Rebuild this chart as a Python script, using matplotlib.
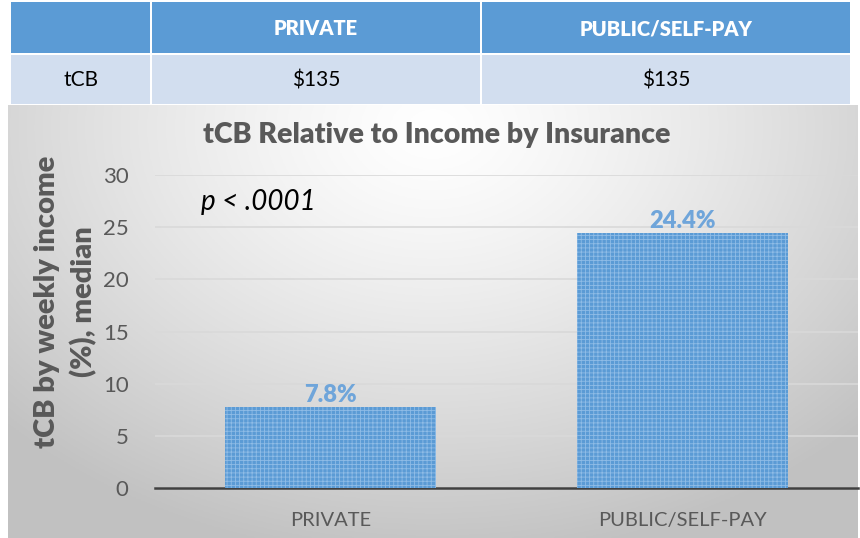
import numpy as np
import matplotlib
matplotlib.use("Agg")
import matplotlib.pyplot as plt

# data
categories = ["PRIVATE", "PUBLIC/SELF-PAY"]
values = [7.8, 24.4]
value_labels = ["7.8%", "24.4%"]
table_header = ["", "PRIVATE", "PUBLIC/SELF-PAY"]
table_row = ["tCB", "$135", "$135"]
yticks = [0, 5, 10, 15, 20, 25, 30]

plt.rcParams["font.family"] = ["Lato", "DejaVu Sans"]
plt.rcParams["hatch.linewidth"] = 0.6

W, H = 860, 538
fig = plt.figure(figsize=(W / 100, H / 100), dpi=100)
fig.patch.set_facecolor("white")

def fx(px):
    return px / W

def fy(py):
    return 1 - py / H

# table on top
tab_ax = fig.add_axes([0, 0, 1, 1])
tab_ax.set_xlim(0, W)
tab_ax.set_ylim(H, 0)
tab_ax.axis("off")
col_edges = [10, 151, 481, 851]
row_edges = [(2, 53), (55, 104)]
rows = [table_header, table_row]
colors = ["#5B9BD5", "#D2DEEF"]
for r, (y0, y1) in enumerate(row_edges):
    for c in range(3):
        x0, x1 = col_edges[c] + 1, col_edges[c + 1] - 1
        tab_ax.add_patch(plt.Rectangle((x0, y0), x1 - x0, y1 - y0, facecolor=colors[r], edgecolor="none"))
        tab_ax.text((x0 + x1) / 2, (y0 + y1) / 2 + 1, rows[r][c], ha="center", va="center",
                    fontsize=14.5 if r == 0 else 15, fontweight="heavy" if r == 0 else "normal",
                    color="white" if r == 0 else "black")

# gradient background for chart
bg = fig.add_axes([fx(8), 0, fx(858) - fx(8), fy(105)])
gx, gy = np.meshgrid(np.linspace(0, 1, 300), np.linspace(0, 1, 200))
dist = np.sqrt(((gx - 0.5) * 1.3) ** 2 + ((gy - 0.05) * 0.9) ** 2)
shade = 1.0 - 0.24 * np.clip(dist / 0.9, 0, 1) ** 1.3
bg.imshow(np.dstack([shade] * 3), aspect="auto", extent=[0, 1, 1, 0])
bg.axis("off")

# bar chart
ax = fig.add_axes([fx(155), fy(488), fx(858) - fx(155), fy(175) - fy(488)])
ax.patch.set_alpha(0)
x = np.arange(len(categories))
bars = ax.bar(x, values, width=0.6, color="#5B9BD5", edgecolor="#8FBCE6", linewidth=0,
              hatch="++++", zorder=3)
ax.set_xlim(-0.5, 1.5)
ax.set_ylim(0, 30)
ax.set_yticks(yticks)
ax.set_xticks(x)
ax.set_xticklabels(categories)
ax.tick_params(axis="y", length=0, labelsize=16, labelcolor="#595959", pad=19)
ax.tick_params(axis="x", length=0, labelsize=14.5, labelcolor="#595959", pad=17)
for s in ["left", "right", "top"]:
    ax.spines[s].set_visible(False)
ax.spines["bottom"].set_color("#404040")
ax.spines["bottom"].set_linewidth(1.8)
ax.grid(axis="y", color="#D9D9D9", linewidth=1.2, zorder=0)
for xi, v, lab in zip(x, values, value_labels):
    ax.text(xi, v + 0.1, lab, ha="center", va="bottom", fontsize=17, fontweight="heavy",
            color="#6FA5DA", zorder=4)

ax.text(0.065, 0.915, "p < .0001", transform=ax.transAxes, fontsize=20, fontstyle="italic",
        color="black", va="center")

fig.text(fx(437), fy(135), "tCB Relative to Income by Insurance", ha="center", va="center",
         fontsize=20.5, fontweight="heavy", color="#595959")
fig.text(fx(66), fy(302), "tCB by weekly income\n(%), median", ha="center", va="center",
         rotation=90, fontsize=21, fontweight="heavy", color="#595959", linespacing=1.45)

fig.savefig("out.png", dpi=100)
